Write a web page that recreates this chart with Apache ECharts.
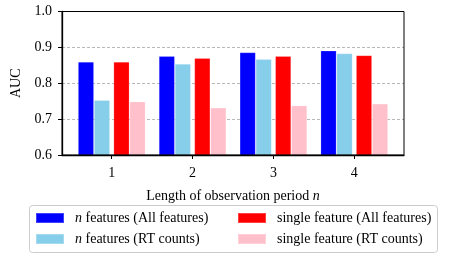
<!DOCTYPE html>
<html>
<head>
<meta charset="utf-8">
<script src="https://cdn.jsdelivr.net/npm/echarts@6/dist/echarts.min.js"></script>
<style>html,body{margin:0;padding:0;background:#fff;}#c{width:449px;height:258px;}</style>
</head>
<body>
<div id="c"></div>
<script>
const categories = [1, 2, 3, 4];
const tickLabels = ['1', '2', '3', '4'];
const nAll = [0.860, 0.876, 0.886, 0.891];
const nRT = [0.753, 0.854, 0.867, 0.883];
const singleAll = [0.860, 0.870, 0.876, 0.878];
const singleRT = [0.749, 0.732, 0.738, 0.743];
const seriesNames = ['n features (All features)', 'n features (RT counts)', 'single feature (All features)', 'single feature (RT counts)'];
const yTicks = [0.6, 0.7, 0.8, 0.9, 1.0];

const FONT = '"Liberation Serif", "Times New Roman", serif';
const FS = 14;
const chart = echarts.init(document.getElementById('c'), null, {renderer: 'canvas'});

function pairs(vals) { return categories.map((c, i) => [c, vals[i]]); }
function barSeries(name, vals, color) {
  return {
    type: 'bar', name: name, data: pairs(vals), barWidth: 16, barGap: '0%',
    itemStyle: {color: color, borderColor: 'rgba(255,255,255,0.25)', borderWidth: 0.8},
    emphasis: {disabled: true}, animation: false
  };
}
const richText = {
  i: {fontFamily: FONT, fontStyle: 'italic', fontSize: FS, color: '#000'},
  t: {fontFamily: FONT, fontSize: FS, color: '#000'}
};
function legendFmt(name) {
  if (name.startsWith('n ')) return '{i|n}{t|' + name.slice(1) + '}';
  return '{t|' + name + '}';
}

const option = {
  animation: false,
  grid: {left: 62, right: 45, top: 11.5, bottom: 103, show: true, borderColor: '#000', borderWidth: 1, backgroundColor: 'transparent', z: 3},
  graphic: [{
    type: 'rect', left: 29, top: 205, shape: {width: 408, height: 47, r: 3},
    style: {fill: '#fff', stroke: '#cccccc', lineWidth: 1}, z: 0
  }],
  legend: [{
    orient: 'vertical', left: 30, top: 206, itemWidth: 28, itemHeight: 10, itemGap: 7,
    icon: 'rect', data: [seriesNames[0], seriesNames[1]], formatter: legendFmt,
    textStyle: {fontFamily: FONT, fontSize: FS, color: '#000', lineHeight: 14, padding: [0, 0, 0, 6], rich: richText},
    selectedMode: false, z: 5
  }, {
    orient: 'vertical', left: 232, top: 206, itemWidth: 28, itemHeight: 10, itemGap: 7,
    icon: 'rect', data: [seriesNames[2], seriesNames[3]], formatter: legendFmt,
    textStyle: {fontFamily: FONT, fontSize: FS, color: '#000', lineHeight: 14, padding: [0, 0, 0, 6], rich: richText},
    selectedMode: false, z: 5
  }],
  xAxis: {
    type: 'value', min: 0.385, max: 4.615,
    name: 'Length of observation period {i|n}', nameLocation: 'middle', nameGap: 34,
    nameTextStyle: {fontFamily: FONT, fontSize: FS, color: '#000', rich: richText},
    axisLine: {show: true, lineStyle: {color: '#000', width: 1.3}},
    axisTick: {show: true, length: 4, lineStyle: {color: '#000', width: 1}, customValues: categories},
    axisLabel: {fontFamily: FONT, fontSize: FS, color: '#000', margin: 11, customValues: categories,
      formatter: v => tickLabels[categories.indexOf(v)] || ''},
    splitLine: {show: false},
    z: 4
  },
  yAxis: {
    type: 'value', min: yTicks[0], max: yTicks[yTicks.length - 1], interval: 0.1,
    name: 'AUC', nameLocation: 'middle', nameGap: 38, nameRotate: 90,
    nameTextStyle: {fontFamily: FONT, fontSize: FS, color: '#000'},
    axisLine: {show: true, lineStyle: {color: '#000', width: 1.3}},
    axisTick: {show: true, length: 4, lineStyle: {color: '#000', width: 1}},
    axisLabel: {fontFamily: FONT, fontSize: FS, color: '#000', margin: 10, formatter: v => v.toFixed(1)},
    splitLine: {show: true, showMinLine: false, showMaxLine: false, lineStyle: {color: '#b8b8b8', type: [3, 2], width: 1}}
  },
  series: [
    barSeries(seriesNames[0], nAll, '#0000ff'),
    barSeries(seriesNames[1], nRT, '#87ceeb'),
    {type: 'bar', name: '_gap', data: categories.map(c => [c, '-']), barWidth: 3.5, barGap: '0%', silent: true, itemStyle: {color: 'transparent'}},
    barSeries(seriesNames[2], singleAll, '#ff0000'),
    barSeries(seriesNames[3], singleRT, '#ffc0cb')
  ]
};
chart.setOption(option);
</script>
</body>
</html>
